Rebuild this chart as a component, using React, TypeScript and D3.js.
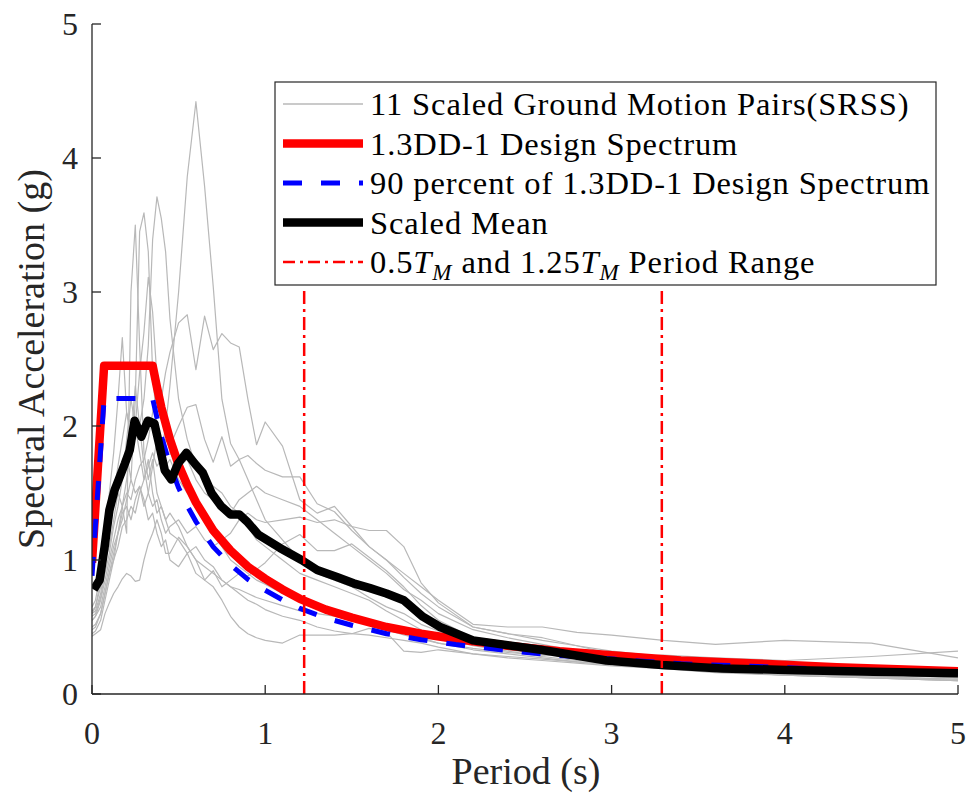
import React from "react";
import * as d3 from "d3";

// Spectral periods (s) shared by the ground-motion spectra
const periods = [
  0, 0.02, 0.05, 0.075, 0.1, 0.125, 0.15, 0.175, 0.2, 0.225,
  0.25, 0.275, 0.3, 0.325, 0.35, 0.375, 0.4, 0.425, 0.45, 0.5,
  0.55, 0.6, 0.65, 0.7, 0.75, 0.8, 0.85, 0.9, 0.95, 1.0,
  1.1, 1.2, 1.3, 1.4, 1.5, 1.6, 1.7, 1.8, 1.9, 2.0,
  2.2, 2.4, 2.6, 2.8, 3.0, 3.3, 3.6, 4.0, 4.5, 5.0,
];

// SRSS spectra of the 11 scaled ground motion pairs (g)
const gm01 = [
  0.55, 0.58, 0.65, 0.8, 0.95, 1.1, 1.2, 1.35, 1.4, 1.3,
  1.45, 1.55, 1.4, 1.5, 1.7, 1.9, 1.8, 2.0, 2.3, 3.0,
  3.86, 4.42, 3.79, 3.04, 2.2, 1.87, 1.75, 1.6, 1.45, 1.3,
  1.15, 1.0, 0.9, 0.85, 0.8, 0.72, 0.65, 0.6, 0.52, 0.47,
  0.38, 0.33, 0.3, 0.27, 0.24, 0.21, 0.18, 0.15, 0.13, 0.11,
];
const gm02 = [
  0.62, 0.65, 0.8, 1.0, 1.1, 1.3, 1.5, 1.4, 1.2, 3.0,
  3.5, 2.6, 1.8, 1.6, 1.75, 1.5, 1.4, 1.3, 1.35, 1.25,
  1.1, 1.0, 0.95, 0.9, 0.85, 0.8, 0.75, 0.7, 0.67, 0.63,
  0.58, 0.55, 0.5, 0.47, 0.45, 0.44, 0.42, 0.4, 0.38, 0.35,
  0.3, 0.27, 0.25, 0.23, 0.21, 0.19, 0.17, 0.14, 0.12, 0.1,
];
const gm03 = [
  0.6, 0.62, 0.75, 0.95, 1.2, 1.4, 1.6, 1.7, 1.8, 1.6,
  2.2, 3.45, 3.59, 3.3, 2.4, 2.0, 1.9, 1.7, 1.75, 1.6,
  1.5, 1.45, 1.3, 1.2, 1.1, 1.0, 0.95, 0.9, 0.85, 0.82,
  0.75, 0.7, 0.65, 0.6, 0.56, 0.52, 0.48, 0.44, 0.41, 0.38,
  0.33, 0.3, 0.27, 0.24, 0.22, 0.19, 0.16, 0.14, 0.12, 0.1,
];
const gm04 = [
  0.65, 0.7, 0.9, 1.1, 1.35, 1.5, 1.7, 1.9, 2.1, 2.0,
  1.9, 2.0, 2.2, 2.6, 3.39, 3.71, 3.55, 3.3, 2.8, 2.2,
  1.9, 1.7, 1.6, 1.55, 1.5, 1.4, 1.35, 1.25, 1.15, 1.1,
  1.0, 0.9, 0.85, 0.8, 0.75, 0.7, 0.62, 0.55, 0.48, 0.42,
  0.36, 0.32, 0.28, 0.25, 0.23, 0.2, 0.18, 0.15, 0.13, 0.11,
];
const gm05 = [
  0.55, 0.58, 0.7, 0.85, 1.0, 1.15, 1.3, 1.4, 1.5, 1.45,
  1.6, 1.7, 1.75, 1.9, 2.1, 2.3, 2.2, 2.4, 2.55, 2.77,
  2.83, 2.42, 2.82, 2.57, 2.69, 2.62, 2.59, 2.2, 1.86, 2.03,
  1.85, 1.45, 1.35, 1.4, 1.25, 1.1, 1.0, 0.87, 0.75, 0.65,
  0.5, 0.45, 0.4, 0.36, 0.32, 0.28, 0.25, 0.22, 0.18, 0.16,
];
const gm06 = [
  0.5, 0.52, 0.6, 0.75, 0.9, 1.0, 1.1, 1.25, 1.3, 1.4,
  1.35, 1.5, 1.6, 1.7, 1.8, 1.7, 1.75, 1.9, 1.85, 2.0,
  2.14, 2.16, 1.9, 1.73, 1.92, 1.7, 1.75, 1.78, 1.72, 1.67,
  1.62, 1.62, 1.42, 1.36, 1.22, 1.1, 1.0, 0.9, 0.8, 0.7,
  0.52, 0.5, 0.5, 0.46, 0.44, 0.4, 0.37, 0.4, 0.38, 0.27,
];
const gm07 = [
  0.48, 0.5, 0.6, 0.75, 0.9, 1.05, 1.2, 1.4, 1.6, 1.9,
  2.3, 2.0, 1.7, 1.5, 1.4, 1.45, 1.3, 1.2, 1.25, 1.3,
  1.2, 1.25, 1.15, 1.1, 1.15, 1.2, 1.3, 1.35, 1.3, 1.28,
  1.3, 1.32, 1.28, 1.3, 1.25, 1.22, 1.22, 1.1, 0.83, 0.68,
  0.5, 0.45, 0.42, 0.36, 0.3, 0.26, 0.23, 0.2, 0.16, 0.13,
];
const gm08 = [
  0.45, 0.47, 0.55, 0.7, 0.85, 1.0, 1.2, 1.3, 1.45, 1.6,
  1.5, 1.55, 1.45, 1.3, 1.35, 1.2, 1.1, 1.15, 1.0, 0.95,
  1.05, 0.9, 0.85, 0.92, 0.8, 0.85, 0.9, 0.88, 0.93, 0.98,
  1.12, 1.19, 1.07, 1.07, 1.12, 1.02, 0.92, 0.8, 0.66, 0.55,
  0.42, 0.36, 0.3, 0.27, 0.25, 0.22, 0.2, 0.17, 0.15, 0.12,
];
const gm09 = [
  0.43, 0.45, 0.48, 0.6, 0.68, 0.75, 0.8, 0.86, 0.9, 0.88,
  0.84, 0.85, 1.0, 1.12, 1.2, 1.3, 1.2, 1.05, 1.05, 1.17,
  1.1, 1.0, 0.85, 0.8, 0.7, 0.58, 0.5, 0.45, 0.42, 0.4,
  0.38, 0.44, 0.44, 0.44, 0.45, 0.49, 0.46, 0.32, 0.31, 0.33,
  0.3, 0.28, 0.26, 0.24, 0.22, 0.2, 0.17, 0.14, 0.12, 0.1,
];
const gm10 = [
  0.6, 0.65, 0.85, 1.2, 1.5, 1.8, 2.2, 2.66, 2.1, 1.9,
  2.0, 1.8, 1.6, 1.75, 1.5, 1.35, 1.4, 1.3, 1.2, 1.15,
  1.05, 1.1, 1.0, 0.95, 0.85, 0.8, 0.78, 0.75, 0.72, 0.7,
  0.66, 0.62, 0.6, 0.58, 0.55, 0.52, 0.5, 0.46, 0.42, 0.38,
  0.34, 0.31, 0.29, 0.28, 0.27, 0.29, 0.27, 0.25, 0.28, 0.32,
];
const gm11 = [
  0.58, 0.6, 0.72, 0.9, 1.05, 1.25, 1.4, 1.6, 1.9, 2.2,
  2.0, 2.4, 2.7, 3.11, 2.85, 2.37, 2.2, 2.0, 1.8, 1.7,
  1.75, 1.6, 1.5, 1.45, 1.4, 1.35, 1.45, 1.5, 1.55, 1.5,
  1.45, 1.4, 1.3, 1.2, 1.1, 1.0, 0.9, 0.78, 0.7, 0.6,
  0.48, 0.42, 0.37, 0.32, 0.28, 0.24, 0.21, 0.18, 0.15, 0.12,
];
const groundMotions = [gm01, gm02, gm03, gm04, gm05, gm06, gm07, gm08, gm09, gm10, gm11];

// Scaled mean spectrum
const meanPeriods = [
  0.01, 0.044, 0.073, 0.1, 0.13, 0.16, 0.19, 0.218, 0.246, 0.285,
  0.323, 0.36, 0.39, 0.42, 0.458, 0.497, 0.545, 0.593, 0.64, 0.69,
  0.747, 0.8, 0.85, 0.9, 0.96, 1.085, 1.21, 1.3, 1.41, 1.51,
  1.605, 1.7, 1.8, 1.91, 2.01, 2.2, 2.59, 2.97, 3.29, 3.64,
  4.01, 4.51, 5.0,
];
const meanSa = [
  0.78, 0.85, 1.1, 1.37, 1.52, 1.62, 1.72, 1.82, 2.04, 1.92,
  2.04, 2.02, 1.85, 1.67, 1.6, 1.72, 1.8, 1.72, 1.65, 1.5,
  1.4, 1.34, 1.34, 1.28, 1.19, 1.09, 1.0, 0.925, 0.875, 0.826,
  0.79, 0.75, 0.7, 0.577, 0.5, 0.4, 0.33, 0.25, 0.216, 0.19,
  0.18, 0.166, 0.154,
];

// 1.3 x DD-1 design spectrum
const designPeriods = [
  0, 0.07, 0.35, 0.375, 0.4, 0.45, 0.5, 0.55, 0.6, 0.7,
  0.8, 0.9, 1.0, 1.1, 1.2, 1.35, 1.5, 1.7, 1.9, 2.1,
  2.4, 2.7, 3.0, 3.4, 3.8, 4.3, 5.0,
];
const designSa = [
  0.98, 2.45, 2.45, 2.29, 2.14, 1.9, 1.71, 1.56, 1.43, 1.22,
  1.07, 0.95, 0.86, 0.78, 0.71, 0.63, 0.57, 0.5, 0.45, 0.41,
  0.36, 0.32, 0.29, 0.25, 0.23, 0.2, 0.17,
];
const lowerBoundFactor = 0.9;

// 0.5 T_M and 1.25 T_M, with the height of the marker lines
const periodRange = [1.225, 3.29];
const rangeLineTop = 3.03;

const xTicks = [0, 1, 2, 3, 4, 5];
const yTicks = [0, 1, 2, 3, 4, 5];

const W = 967;
const H = 796;
const left = 92;
const right = 958;
const top = 24;
const bottom = 694;

const FONT = "Liberation Serif";
const AXIS = "#262626";

export default function App() {
  const x = d3.scaleLinear().domain([0, 5]).range([left, right]);
  const y = d3.scaleLinear().domain([0, 5]).range([bottom, top]);

  const line = d3
    .line<[number, number]>()
    .x((d) => x(d[0]))
    .y((d) => y(d[1]));

  const gmPaths = groundMotions.map((vals) =>
    line(periods.map((t, i) => [t, vals[i]] as [number, number]))
  );
  const designPath = line(designPeriods.map((t, i) => [t, designSa[i]] as [number, number]));
  const lowerPath = line(
    designPeriods.map((t, i) => [t, designSa[i] * lowerBoundFactor] as [number, number])
  );
  const meanPath = line(meanPeriods.map((t, i) => [t, meanSa[i]] as [number, number]));

  const legendItems = [
    { key: "gm", stroke: "#b8b8b8", width: 1.5, dash: undefined as string | undefined },
    { key: "design", stroke: "#ff0000", width: 8.5, dash: undefined },
    { key: "lower", stroke: "#0000ff", width: 5, dash: "19,19" },
    { key: "mean", stroke: "#000000", width: 8.5, dash: undefined },
    { key: "range", stroke: "#ff0000", width: 2.5, dash: "12,5,3,5" },
  ];
  const legendX = 275;
  const legendY = 82;
  const legendW = 661;
  const legendH = 203;
  const rowY = (i: number) => 104 + i * 39.5;

  const labelFor = (key: string) => {
    switch (key) {
      case "gm":
        return <tspan>11 Scaled Ground Motion Pairs(SRSS)</tspan>;
      case "design":
        return <tspan>1.3DD-1 Design Spectrum</tspan>;
      case "lower":
        return <tspan>90 percent of 1.3DD-1 Design Spectrum</tspan>;
      case "mean":
        return <tspan>Scaled Mean</tspan>;
      default:
        return (
          <>
            <tspan>0.5</tspan>
            <tspan fontStyle="italic">T</tspan>
            <tspan fontStyle="italic" fontSize="23" dy="7">M</tspan>
            <tspan dy="-7"> and 1.25</tspan>
            <tspan fontStyle="italic">T</tspan>
            <tspan fontStyle="italic" fontSize="23" dy="7">M</tspan>
            <tspan dy="-7"> Period Range</tspan>
          </>
        );
    }
  };

  return (
    <svg
      width={W}
      height={H}
      viewBox={`0 0 ${W} ${H}`}
      style={{ position: "absolute", left: 0, top: 0, background: "#fff" }}
      fontFamily={FONT}
    >
      <defs>
        <clipPath id="plot-clip">
          <rect x={left} y={top} width={right - left} height={bottom - top} />
        </clipPath>
      </defs>
      <rect x={0} y={0} width={W} height={H} fill="#fff" />

      <g clipPath="url(#plot-clip)" fill="none" strokeLinejoin="round">
        {gmPaths.map((p, i) => (
          <path key={i} d={p ?? ""} stroke="#b8b8b8" strokeWidth={1.2} />
        ))}
        <path d={designPath ?? ""} stroke="#ff0000" strokeWidth={8.5} />
        <path d={lowerPath ?? ""} stroke="#0000ff" strokeWidth={5} strokeDasharray="19,19" />
        <path d={meanPath ?? ""} stroke="#000000" strokeWidth={8.5} />
        {periodRange.map((t) => (
          <line
            key={t}
            x1={x(t)}
            x2={x(t)}
            y1={bottom}
            y2={y(rangeLineTop)}
            stroke="#ff0000"
            strokeWidth={2.5}
            strokeDasharray="13,5,3,5"
          />
        ))}
      </g>

      {/* axes */}
      <g stroke={AXIS} strokeWidth={1.3}>
        <line x1={left} x2={right} y1={bottom} y2={bottom} />
        <line x1={left} x2={left} y1={top} y2={bottom} />
        {xTicks.map((t) => (
          <line key={"xt" + t} x1={x(t)} x2={x(t)} y1={bottom} y2={bottom - 9} />
        ))}
        {yTicks.map((t) => (
          <line key={"yt" + t} x1={left} x2={left + 9} y1={y(t)} y2={y(t)} />
        ))}
      </g>
      <g fill={AXIS} fontFamily={FONT} fontSize={32}>
        {xTicks.map((t) => (
          <text key={"xl" + t} x={x(t)} y={bottom + 50} textAnchor="middle">
            {t}
          </text>
        ))}
        {yTicks.map((t) => (
          <text key={"yl" + t} x={left - 14} y={y(t) + 11} textAnchor="end">
            {t}
          </text>
        ))}
      </g>
      <text x={526} y={784} textAnchor="middle" fill={AXIS} fontFamily={FONT} fontSize={38}>
        Period (s)
      </text>
      <text
        transform={`translate(44, ${(top + bottom) / 2}) rotate(-90)`}
        textAnchor="middle"
        fill={AXIS}
        fontFamily={FONT}
        fontSize={38}
      >
        Spectral Acceleration (g)
      </text>

      {/* legend */}
      <rect x={legendX} y={legendY} width={legendW} height={legendH} fill="#fff" stroke={AXIS} strokeWidth={1.2} />
      {legendItems.map((it, i) => (
        <g key={it.key}>
          <line
            x1={283}
            x2={363}
            y1={rowY(i)}
            y2={rowY(i)}
            stroke={it.stroke}
            strokeWidth={it.width}
            strokeDasharray={it.dash}
          />
          <text
            x={370}
            y={rowY(i) + 11}
            fill="#000"
            fontFamily={FONT}
            fontSize={32.5}
            letterSpacing={0.9}
          >
            {labelFor(it.key)}
          </text>
        </g>
      ))}
    </svg>
  );
}
